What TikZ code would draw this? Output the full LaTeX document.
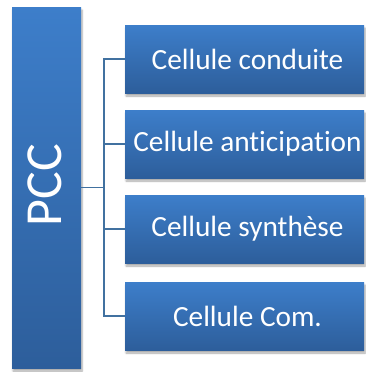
\documentclass[tikz,border=0pt]{standalone}
\usepackage{fontspec}
\setmainfont[Ligatures=NoCommon]{Carlito}
\usetikzlibrary{shadows.blur}
\definecolor{topblue}{RGB}{61,126,202}
\definecolor{botblue}{RGB}{45,94,155}
\definecolor{linkblue}{RGB}{65,113,160}
\begin{document}
\begin{tikzpicture}[x=1pt,y=-1pt,
  box/.style={rectangle, top color=topblue, bottom color=botblue, draw=none,
    text=white, inner sep=0pt,
    blur shadow={shadow xshift=1pt, shadow yshift=-3pt, shadow blur steps=6, shadow opacity=35}},
  cellbox/.style={box, minimum width=239pt, minimum height=68pt,
    font=\fontsize{29.3}{34}\selectfont, execute at begin node={\hspace*{6pt}}},
  link/.style={draw=linkblue, line width=1.5pt}]
\useasboundingbox (0,0) rectangle (365,372);
\node[box, minimum width=69pt, minimum height=361pt] (L) at (46.5,187.5) {};
\node[text=white, rotate=90, inner sep=0pt, font=\fontsize{52}{60}\selectfont] (pcc) at (44.5,185) {PCC};
\node[cellbox] (c1) at (244.5,59) {Cellule conduite};
\node[cellbox] (c2) at (244.5,144) {Cellule anticipation};
\node[cellbox] (c3) at (244.5,229) {Cellule synthèse};
\node[cellbox] (c4) at (244.5,316) {Cellule Com.};
\coordinate (hub) at (104,187.5);
\draw[link] (L.east) -- (hub);
\draw[link] (hub) |- (c1.west);
\draw[link] (hub) |- (c2.west);
\draw[link] (hub) |- (c3.west);
\draw[link] (hub) |- (c4.west);
\end{tikzpicture}
\end{document}
